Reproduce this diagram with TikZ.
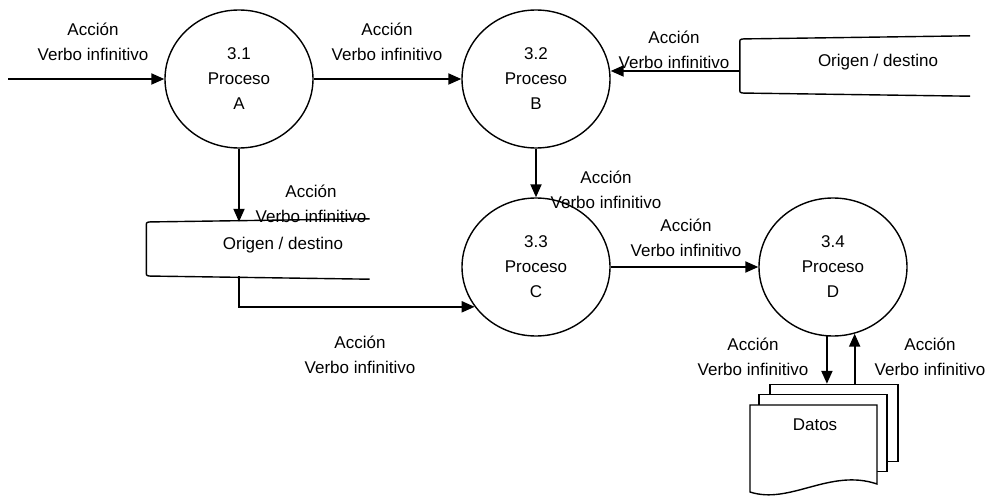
\documentclass[tikz,border=0pt]{standalone}
\usepackage{fontspec}
\setmainfont{Liberation Sans}
\usetikzlibrary{arrows.meta,calc,shapes.geometric}

\begin{document}
\begin{tikzpicture}[x=1pt,y=-1pt,
  every node/.style={font=\fontsize{17}{25}\selectfont,align=center},
  proc/.style={draw,ellipse,line width=1.4pt,minimum width=148pt,minimum height=138pt,inner sep=0pt},
  flow/.style={-{Triangle[length=13pt,width=11pt]},line width=2pt},
  store/.style={minimum width=#1,minimum height=54pt,inner sep=0pt},
  sheet/.style={draw,fill=white,line width=1.4pt,minimum width=128pt,minimum height=77pt}]
  \useasboundingbox (0,0) rectangle (994,497);
  % procesos
  \node[proc] (A) at (239,79) {3.1\\Proceso\\A};
  \node[proc] (B) at (536,79) {3.2\\Proceso\\B};
  \node[proc] (C) at (536,267) {3.3\\Proceso\\C};
  \node[proc] (D) at (833,267) {3.4\\Proceso\\D};
  % origen / destino
  \node[store=230pt] (origen1) at (855,66) {};
  \node[store=223pt] (origen2) at (258,249) {};
  \foreach \s in {origen1,origen2}
    \draw[line width=1.4pt] ([yshift=3pt]\s.north east) -- ([xshift=14pt]\s.north west)
      .. controls (\s.north west) .. ([yshift=-3pt]\s.north west)
      -- ([yshift=3pt]\s.south west) .. controls (\s.south west) .. ([xshift=14pt]\s.south west)
      -- ([yshift=-3pt]\s.south east);
  \node (txt1) at (878,62) {Origen / destino};
  \node (txt2) at (283,245) {Origen / destino};
  % datos
  \node[sheet] (hoja3) at (834,423) {};
  \node[sheet] (hoja2) at (823,433) {};
  \draw[line width=1.4pt,fill=white] (750,405) -- (877,405) -- (877,484)
    .. controls (830,468) and (790,505) .. (750,492) -- cycle;
  \node (datos) at (815,425) {Datos};
  % flujos
  \coordinate (entrada) at (8,79);
  \draw[flow] (entrada) -- (A);
  \draw[flow] (A) -- (B);
  \draw[flow] ([yshift=-5pt]origen1.west) -- ([yshift=-5pt]origen1.west -| B.east);
  \draw[flow] (A) -- (A |- origen2.north);
  \draw[flow] (origen2.south -| A) |- (C.213);
  \draw[flow] (B) -- (C);
  \draw[flow] (C) -- (D);
  \draw[flow] (D.265) -- (D.265 |- hoja3.north);
  \draw[flow] (D.288 |- hoja3.north) -- (D.288);
  % etiquetas
  \node (lIn) at (93,42) {Acción\\Verbo infinitivo};
  \node (lAB) at (387,42) {Acción\\Verbo infinitivo};
  \node (lOB) at (674,50) {Acción\\Verbo infinitivo};
  \node (lAO) at (311,204) {Acción\\Verbo infinitivo};
  \node (lOC) at (360,355) {Acción\\Verbo infinitivo};
  \node (lBC) at (606,190) {Acción\\Verbo infinitivo};
  \node (lCD) at (686,238) {Acción\\Verbo infinitivo};
  \node (lDO) at (753,357) {Acción\\Verbo infinitivo};
  \node (lOD) at (930,357) {Acción\\Verbo infinitivo};
\end{tikzpicture}
\end{document}
